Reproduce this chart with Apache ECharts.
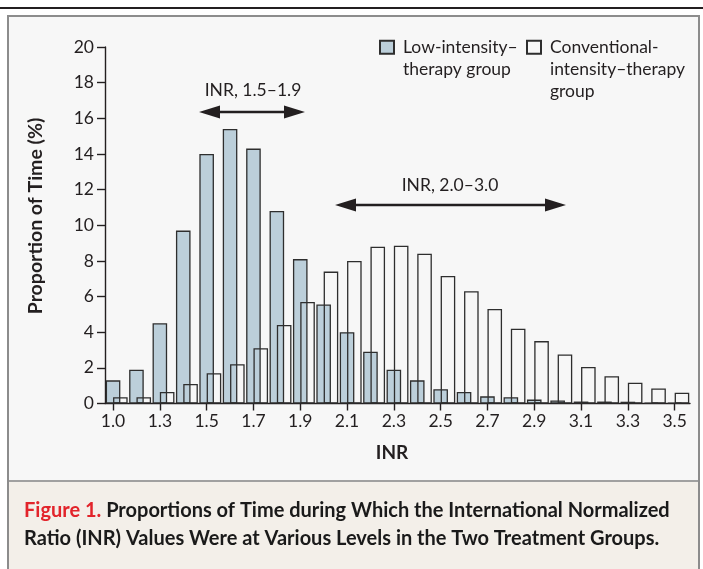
<!DOCTYPE html>
<html>
<head>
<meta charset="utf-8">
<script src="https://cdn.jsdelivr.net/npm/echarts@6/dist/echarts.min.js"></script>
<style>
  html, body { margin: 0; padding: 0; background: #ffffff; }
  #wrap { position: relative; width: 703px; height: 569px; overflow: hidden; }
  #topline { position: absolute; left: 0; top: 7px; width: 703px; height: 1.5px; background: #231f20; }
  #panel { position: absolute; left: 7px; top: 15px; width: 689px; height: 600px; border: 2px solid #8c8c8c; background: #f7f7f7; }
  #caption { position: absolute; left: 9px; top: 480px; width: 689px; height: 100px; border-top: 2px solid #a0a0a0; background: #f3efe9; }
  #chart { position: absolute; left: 0; top: 0; width: 703px; height: 569px; }
</style>
</head>
<body>
<div id="wrap">
  <div id="topline"></div>
  <div id="panel"></div>
  <div id="caption"></div>
  <div id="chart"></div>
</div>
<script>
// ---- data ----
const categories = ['1.0','1.2','1.3','1.4','1.5','1.6','1.7','1.8','1.9','2.0','2.1','2.2','2.3','2.4','2.5','2.6','2.7','2.8','2.9','3.0','3.1','3.2','3.3','3.4','3.5'];
const lowIntensity = [1.3,1.9,4.5,9.7,14.0,15.4,14.3,10.8,8.1,5.55,4.0,2.9,1.9,1.3,0.8,0.65,0.4,0.35,0.22,0.17,0.11,0.11,0.1,0.05,0.05];
const conventional = [0.35,0.35,0.65,1.1,1.7,2.2,3.1,4.4,5.7,7.4,8.0,8.8,8.85,8.4,7.15,6.3,5.3,4.2,3.5,2.75,2.05,1.53,1.16,0.84,0.6];
const seriesNames = ['Low-intensity–\ntherapy group', 'Conventional-\nintensity–therapy\ngroup'];
const yTicks = { min: 0, max: 20, interval: 2 };
const captionLead = 'Figure 1.';
const captionLines = [' Proportions of Time during Which the International Normalized', 'Ratio (INR) Values Were at Various Levels in the Two Treatment Groups.'];

const FONT = 'Lato';
const INK = '#231f20';
const BLUE = '#bccfda';
const FS = 17.5;
const LH = 22;

const chart = echarts.init(document.getElementById('chart'), null, { renderer: 'canvas' });

const GL = 105, GW = 585, GT = 47, GB = 569 - 403.5;
const SHIFT = 3.65;

function arrow(x1, x2, y) {
  const L = 21, H = 6.5;
  return {
    type: 'group', silent: true,
    children: [
      { type: 'line', shape: { x1: x1 + L - 2, y1: y, x2: x2 - L + 2, y2: y }, style: { stroke: INK, lineWidth: 2.6 } },
      { type: 'polygon', shape: { points: [[x1, y], [x1 + L, y - H], [x1 + L, y + H]] }, style: { fill: INK } },
      { type: 'polygon', shape: { points: [[x2, y], [x2 - L, y - H], [x2 - L, y + H]] }, style: { fill: INK } }
    ]
  };
}

// legend: first text line aligned with the icon (blank lines balance the block)
function legendFor(name, left, iconCenterY) {
  const n = name.split('\n').length;
  const total = (2 * n - 1) * LH;
  const boxBottom = iconCenterY + total / 2;
  return {
    left: left, bottom: 569 - boxBottom, padding: 0,
    itemWidth: 14, itemHeight: 13, icon: 'rect', selectedMode: false,
    formatter: function (nm) { return ' \n'.repeat(n - 1) + nm; },
    textStyle: { fontSize: FS, lineHeight: LH, color: INK, fontFamily: FONT, padding: [0, 0, 0, 4] },
    data: [name]
  };
}

const option = {
  animation: false,
  textStyle: { fontFamily: FONT, color: INK },
  grid: [
    { left: GL, width: GW, top: GT, bottom: GB, containLabel: false },
    { left: GL - SHIFT, width: GW, top: GT, bottom: GB, containLabel: false }
  ],
  xAxis: [
    {
      type: 'category', gridIndex: 0, data: categories, boundaryGap: true,
      axisLine: { show: true, lineStyle: { color: INK, width: 1.4 } },
      axisTick: { show: false }, axisLabel: { show: false }, splitLine: { show: false }
    },
    {
      type: 'category', gridIndex: 1, data: categories, boundaryGap: true,
      axisLine: { show: false },
      axisTick: { show: true, alignWithLabel: true, interval: 1, length: 7, lineStyle: { color: INK, width: 1.4 } },
      axisLabel: { show: true, interval: 1, margin: 9, fontSize: FS, color: INK, fontFamily: FONT },
      splitLine: { show: false }
    }
  ],
  yAxis: [
    {
      type: 'value', gridIndex: 0, min: yTicks.min, max: yTicks.max, interval: yTicks.interval,
      axisLine: { show: true, lineStyle: { color: INK, width: 1.4 } },
      axisTick: { show: true, length: 8, lineStyle: { color: INK, width: 1.4 } },
      axisLabel: { margin: 11, fontSize: FS, color: INK, fontFamily: FONT },
      splitLine: { show: false }
    },
    {
      type: 'value', gridIndex: 1, min: yTicks.min, max: yTicks.max, interval: yTicks.interval, show: false
    }
  ],
  legend: [
    legendFor(seriesNames[0], 379, 47.3),
    legendFor(seriesNames[1], 526, 47.3)
  ],
  series: [
    {
      name: seriesNames[0], type: 'bar', xAxisIndex: 0, yAxisIndex: 0,
      data: lowIntensity, barWidth: 14.6, barGap: '-50%',
      itemStyle: { color: BLUE, borderColor: '#2e2e2e', borderWidth: 1.3 }
    },
    {
      name: seriesNames[1], type: 'bar', xAxisIndex: 0, yAxisIndex: 0,
      data: conventional, barWidth: 14.6, barGap: '-50%',
      itemStyle: { color: 'rgba(255,255,255,0)', borderColor: '#2e2e2e', borderWidth: 1.3 }
    }
  ],
  graphic: [
    { type: 'text', x: 36, y: 216, rotation: Math.PI / 2, silent: true,
      style: { text: 'Proportion of Time (%)', font: 'bold 19.5px ' + FONT, fill: INK, align: 'center', verticalAlign: 'middle' } },
    { type: 'text', x: 392, y: 453, silent: true,
      style: { text: 'INR', font: 'bold 19px ' + FONT, fill: INK, align: 'center', verticalAlign: 'middle' } },
    { type: 'text', x: 253, y: 90, silent: true,
      style: { text: 'INR, 1.5–1.9', font: FS + 'px ' + FONT, fill: INK, align: 'center', verticalAlign: 'middle' } },
    { type: 'text', x: 450, y: 185, silent: true,
      style: { text: 'INR, 2.0–3.0', font: FS + 'px ' + FONT, fill: INK, align: 'center', verticalAlign: 'middle' } },
    arrow(199, 305, 112),
    arrow(335, 566, 205),
    { type: 'text', x: 24, y: 497, silent: true,
      style: {
        text: '{r|' + captionLead + '}{b|' + captionLines[0] + '}\n{b|' + captionLines[1] + '}',
        font: 'bold 20px ' + FONT, fill: '#1a1a1a', lineHeight: 28,
        rich: {
          r: { fill: '#e2242b', font: 'bold 20px ' + FONT, lineHeight: 28 },
          b: { fill: '#1a1a1a', font: 'bold 20px ' + FONT, lineHeight: 28 }
        }
      } }
  ]
};
chart.setOption(option);
</script>
</body>
</html>
